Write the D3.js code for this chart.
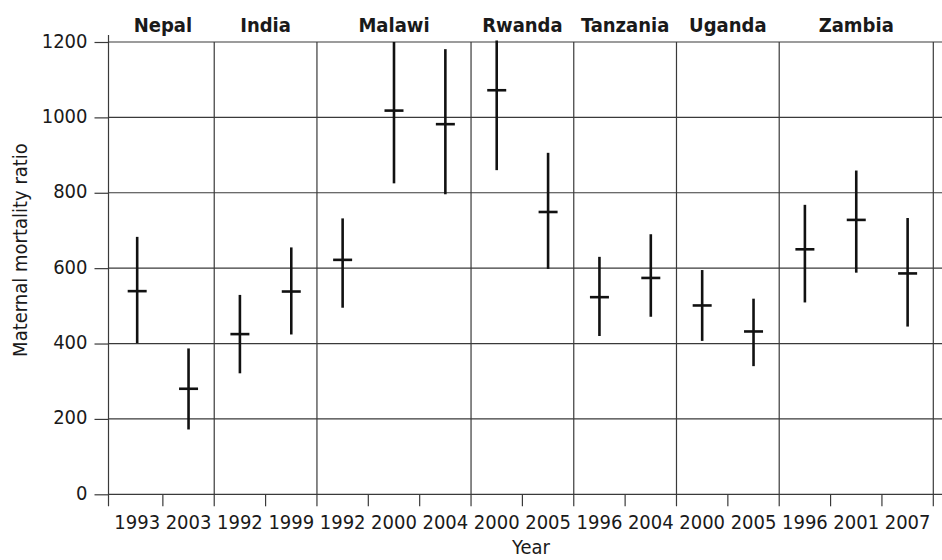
<!DOCTYPE html>
<html>
<head>
<meta charset="utf-8">
<script src="https://cdn.jsdelivr.net/npm/d3@7"></script>
<style>
  body { margin: 0; background: #fff; }
  svg text { font-family: "Liberation Sans Narrow", "DejaVu Sans Condensed", "Roboto", sans-serif; fill: #1a1a1a; }
</style>
</head>
<body>
<div class="container"></div>
<script>
var svgWidth = 942;
var svgHeight = 560;

// survey data (maternal mortality ratio, estimate with lower / upper bound)
var countries = ["Nepal", "Nepal", "India", "India", "Malawi", "Malawi", "Malawi", "Rwanda", "Rwanda",
    "Tanzania", "Tanzania", "Uganda", "Uganda", "Zambia", "Zambia", "Zambia"];
var years = ["1993", "2003", "1992", "1999", "1992", "2000", "2004", "2000", "2005",
    "1996", "2004", "2000", "2005", "1996", "2001", "2007"];
var estimate = [539, 280, 425, 538, 622, 1018, 982, 1072, 749, 523, 574, 501, 432, 650, 728, 586];
var lower = [401, 172, 321, 424, 495, 825, 796, 860, 598, 420, 471, 407, 340, 509, 588, 445];
var upper = [683, 387, 529, 655, 732, 1200, 1181, 1204, 906, 630, 690, 595, 519, 768, 859, 733];
var yTicks = [0, 200, 400, 600, 800, 1000, 1200];

var axisX = 108.5;   // y axis position
var gridRight = 942;
var plotTop = 42, plotBottom = 494.3;

var svg = d3.select(".container")
    .append("svg")
    .attr("width", svgWidth)
    .attr("height", svgHeight);

var x = d3.scaleBand()
    .domain(d3.range(years.length))
    .range([111.5, 933.3])
    .padding(0);

var y = d3.scaleLinear()
    .domain([0, 1200])
    .range([plotBottom, plotTop]);

var bw = x.bandwidth();

// horizontal grid
svg.append("g")
    .selectAll("line")
    .data(yTicks)
    .enter()
    .append("line")
    .attr("x1", axisX)
    .attr("x2", gridRight)
    .attr("y1", d => y(d))
    .attr("y2", d => y(d))
    .attr("stroke", "#3a3a3a")
    .attr("stroke-width", 1.2);

// left axis
var leftAxis = d3.axisLeft(y)
    .tickValues(yTicks)
    .tickFormat(d3.format("d"))
    .tickSize(14)
    .tickPadding(7)
    .tickSizeOuter(0);
var gy = svg.append("g")
    .attr("transform", `translate(${axisX}, 0)`)
    .call(leftAxis);
gy.select(".domain").remove();
gy.selectAll("line").attr("stroke", "#3a3a3a").attr("stroke-width", 1.2);
gy.selectAll("text")
    .attr("dy", "0.25em")
    .style("font-size", "20px");

// y axis line
svg.append("line")
    .attr("x1", axisX).attr("x2", axisX)
    .attr("y1", 35).attr("y2", plotBottom + 12)
    .attr("stroke", "#3a3a3a")
    .attr("stroke-width", 1.2);

// bottom labels
var bottomAxis = d3.axisBottom(x).tickSize(0).tickPadding(21).tickFormat(i => years[i]);
var gx = svg.append("g")
    .attr("transform", `translate(0, ${plotBottom})`)
    .call(bottomAxis);
gx.select(".domain").remove();
gx.selectAll("text").style("font-size", "20px");

// tick marks between surveys, full dividers between countries
var bounds = d3.range(years.length).map(i => ({
    x: x(i) + bw,
    divider: i === years.length - 1 || countries[i] !== countries[i + 1]
}));

svg.append("g")
    .selectAll("line")
    .data(bounds)
    .enter()
    .append("line")
    .attr("x1", d => d.x)
    .attr("x2", d => d.x)
    .attr("y1", d => d.divider ? plotTop : plotBottom)
    .attr("y2", plotBottom + 12)
    .attr("stroke", "#3a3a3a")
    .attr("stroke-width", 1.2);

// country labels
var groups = d3.groups(d3.range(years.length), i => countries[i]);
svg.append("g")
    .selectAll("text")
    .data(groups)
    .enter()
    .append("text")
    .attr("x", d => (x(d[1][0]) + x(d[1][d[1].length - 1]) + bw) / 2)
    .attr("y", 31.5)
    .attr("text-anchor", "middle")
    .style("font-size", "20px")
    .style("font-weight", "bold")
    .text(d => d[0]);

// error bars
var marks = svg.append("g")
    .selectAll("g")
    .data(d3.range(years.length))
    .enter()
    .append("g");

marks.append("line")
    .attr("x1", i => x(i) + bw / 2)
    .attr("x2", i => x(i) + bw / 2)
    .attr("y1", i => y(upper[i]))
    .attr("y2", i => y(lower[i]))
    .attr("stroke", "#111")
    .attr("stroke-width", 2.6);

marks.append("line")
    .attr("x1", i => x(i) + bw / 2 - 9.5)
    .attr("x2", i => x(i) + bw / 2 + 9.5)
    .attr("y1", i => y(estimate[i]))
    .attr("y2", i => y(estimate[i]))
    .attr("stroke", "#111")
    .attr("stroke-width", 2.6);

// axis titles
svg.append("text")
    .attr("x", 531)
    .attr("y", 554)
    .attr("text-anchor", "middle")
    .style("font-size", "20px")
    .text("Year");

svg.append("text")
    .attr("transform", "rotate(-90)")
    .attr("x", -250)
    .attr("y", 26.5)
    .attr("text-anchor", "middle")
    .style("font-size", "20px")
    .text("Maternal mortality ratio");
</script>
</body>
</html>
